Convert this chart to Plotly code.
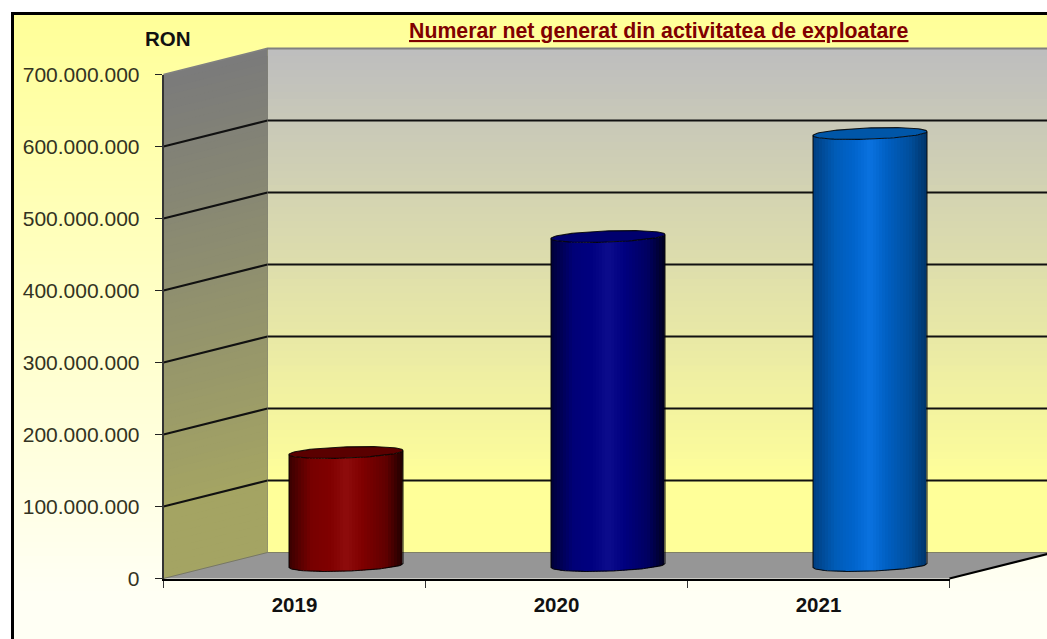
import plotly.graph_objects as go
import numpy as np

# ---- data ----
years = ["2019", "2020", "2021"]
values = [157e6, 457e6, 600e6]
y_ticks = [0, 1e8, 2e8, 3e8, 4e8, 5e8, 6e8, 7e8]
y_labels = ["0", "100.000.000", "200.000.000", "300.000.000", "400.000.000",
            "500.000.000", "600.000.000", "700.000.000"]
title = "Numerar net generat din activitatea de exploatare"
unit = "RON"

W, H = 1047, 639
X0, X1 = 163.5, 949.5  # front plane, px
Y0, Y7 = 578.5, 74.5
CAT = (X1 - X0) / 3
PPV = (Y0 - Y7) / 7e8  # px per value
DX = 104 / CAT         # depth shift in axis units
DY = 26 / PPV


def lerp(a, b, t):
    return tuple(a[i] + (b[i] - a[i]) * t for i in range(3))


def css(c):
    return "rgb(%d,%d,%d)" % tuple(round(v) for v in c)


def hexc(s):
    return tuple(int(s[i:i + 2], 16) for i in (1, 3, 5))


def ramp(stops, t):
    for (t0, c0), (t1, c1) in zip(stops, stops[1:]):
        if t <= t1:
            return lerp(hexc(c0), hexc(c1), (t - t0) / (t1 - t0))
    return hexc(stops[-1][1])


fig = go.Figure()


def poly(xs, ys, color):
    fig.add_trace(go.Scatter(x=list(xs), y=list(ys), fill="toself", fillcolor=color, mode="lines",
                             line=dict(width=0), hoverinfo="skip", showlegend=False))


def line(xs, ys, color, width):
    fig.add_trace(go.Scatter(x=list(xs), y=list(ys), mode="lines", line=dict(color=color, width=width),
                             hoverinfo="skip", showlegend=False))


# ---- walls ----
wall_top, wall_bot = hexc("#BEBEBE"), hexc("#FFFF99")
N = 70
vmax = 7e8
for k in range(N):
    v = vmax * (1 - k / N)
    t = min(1.0, (k / N) / 0.86)
    c = lerp(wall_top, wall_bot, t)
    poly([-0.5 + DX, 3, 3, -0.5 + DX], [v + DY, v + DY, DY, DY], css(c))
    side = tuple(x * 0.645 for x in c)
    poly([-0.5, -0.5 + DX, -0.5 + DX, -0.5], [v, v + DY, DY, 0], css(side))

# floor
poly([-0.5, 2.5, 2.5 + DX, -0.5 + DX], [0, 0, DY, DY], "#969696")
line([-0.5 + DX, 2.5 + DX], [DY, DY], "#808066", 1)

# gridlines
for v in y_ticks[1:7]:
    line([-0.5, -0.5 + DX, 3], [v, v + DY, v + DY], "#111111", 2)
line([-0.5, -0.5 + DX, 3], [vmax, vmax + DY, vmax + DY], "#808080", 1.8)
line([-0.5 + DX, -0.5 + DX], [DY, vmax + DY], "rgba(110,110,100,0.55)", 1)
line([-0.5, -0.5 + DX], [0, DY], "#777766", 1)
line([2.5, 2.5 + DX], [0, DY], "#000000", 2)

# ---- cylinders ----
GRAD = [
    [(0, "#3A0000"), (.2, "#780000"), (.36, "#800000"), (.5, "#8E0C0C"), (.64, "#800000"), (.85, "#600000"), (1, "#1E0000")],
    [(0, "#000038"), (.2, "#000078"), (.36, "#000080"), (.5, "#0C0C8C"), (.64, "#000080"), (.85, "#000060"), (1, "#00001E")],
    [(0, "#003E80"), (.2, "#005CB8"), (.36, "#0064CC"), (.5, "#0A72E0"), (.64, "#0060C4"), (.85, "#004E9C"), (1, "#003468")],
]
TOPC = ["#5A0000", "#00006E", "#0056A8"]
HALF = 57 / CAT
TILT = 2.0 / PPV
MINOR = 5.6 / PPV
CD = 51.5 / CAT


def arc(u, base):
    c = np.clip(u, -1, 1)
    return base + TILT * c - MINOR * np.sqrt(1 - c * c)


for i, val in enumerate(values):
    cx = i + CD
    base = DY / 2
    top = base + val
    S = 38
    for j in range(S):
        a, b = -1 + 2 * j / S, min(1, -1 + 2 * (j + 1.6) / S)
        us = np.linspace(a, b, 5)
        xs = cx + HALF * us
        poly(np.r_[xs, xs[::-1]], np.r_[arc(us, top), arc(us, base)[::-1]],
             css(ramp(GRAD[i], (j + .5) / S)))
    th = np.linspace(0, 2 * np.pi, 90)
    ex = cx + HALF * np.cos(th)
    ey = top + TILT * np.cos(th) + MINOR * np.sin(th)
    poly(ex, ey, TOPC[i])
    line(ex, ey, "rgba(0,0,0,0.85)", 1.1)
    us = np.linspace(-1, 1, 50)
    line(np.r_[cx - HALF, cx + HALF * us, cx + HALF],
         np.r_[arc(np.array([-1.0]), top), arc(us, base), arc(np.array([1.0]), top)],
         "rgba(0,0,0,0.85)", 1.1)

# carrier for the front-plane axes
fig.add_trace(go.Scatter(x=[0, 1, 2], y=values, xaxis="x2", yaxis="y2", mode="markers",
                         marker=dict(opacity=0), hoverinfo="skip", showlegend=False))

# ---- background (frame + gradient) ----
shapes = [dict(type="rect", xref="paper", yref="paper", x0=11 / W, x1=1.01, y0=-0.01, y1=1 - 12 / H,
               fillcolor="#000000", line_width=0, layer="below")]
bg0, bg1 = hexc("#FFFF99"), hexc("#FFFFF4")
top_px, stop_px = 15, 590
for k in range(90):
    p = top_px + (H - top_px) * k / 90
    t = min(1, max(0, (p - top_px) / (stop_px - top_px)))
    shapes.append(dict(type="rect", xref="paper", yref="paper", x0=14 / W, x1=1.01, y0=-0.01, y1=1 - p / H,
                       fillcolor=css(lerp(bg0, bg1, t)), line_width=0, layer="below"))

FONT = "Liberation Sans"
fig.update_layout(
    width=W, height=H, margin=dict(l=0, r=0, t=0, b=0, pad=0), autosize=False,
    paper_bgcolor="#FFFFFF", plot_bgcolor="rgba(0,0,0,0)", showlegend=False,
    shapes=shapes,
    xaxis=dict(domain=[0, 1], range=[-0.5 - X0 / CAT, -0.5 + (W - X0) / CAT], visible=False, fixedrange=True,
               automargin=False),
    yaxis=dict(domain=[0, 1], range=[-(H - Y0) / PPV, Y0 / PPV], visible=False, fixedrange=True,
               automargin=False),
    xaxis2=dict(domain=[X0 / W, X1 / W], range=[-0.5, 2.5], anchor="y2", showgrid=False, zeroline=False,
                automargin=False,
                showline=True, linecolor="#000000", linewidth=2,
                tickmode="array", tickvals=[0, 1, 2], ticktext=years, ticks="",
                tickfont=dict(family=FONT, size=20.5, color="#111111", weight="bold"), ticklabelstandoff=7,
                minor=dict(tickmode="array", tickvals=[-0.5, 0.5, 1.5, 2.5], ticks="outside", ticklen=7,
                           tickcolor="#333333", tickwidth=1.2, showgrid=False),
                fixedrange=True),
    yaxis2=dict(domain=[1 - Y0 / H, 1 - Y7 / H], range=[0, 7e8], anchor="x2", showgrid=False, zeroline=False,
                automargin=False,
                showline=True, linecolor="#333333", linewidth=1.6,
                tickmode="array", tickvals=y_ticks, ticktext=y_labels, ticks="outside", ticklen=7,
                tickcolor="#222222", tickwidth=1.2,
                tickfont=dict(family=FONT, size=21, color="#333322"), ticklabelstandoff=11,
                fixedrange=True),
    annotations=[
        dict(text=title, xref="paper", yref="paper", x=659 / W, y=1 - 31 / H, showarrow=False,
             xanchor="center", yanchor="middle",
             font=dict(family=FONT, size=21.3, color="#800000", weight="bold", lineposition="under")),
        dict(text=unit, xref="paper", yref="paper", x=168 / W, y=1 - 39 / H, showarrow=False,
             xanchor="center", yanchor="middle",
             font=dict(family=FONT, size=20.5, color="#111111", weight="bold")),
    ],
)

fig.write_html("out.html", config=dict(displayModeBar=False),
               post_script="document.body.style.margin='0';document.documentElement.style.overflow='hidden';")
